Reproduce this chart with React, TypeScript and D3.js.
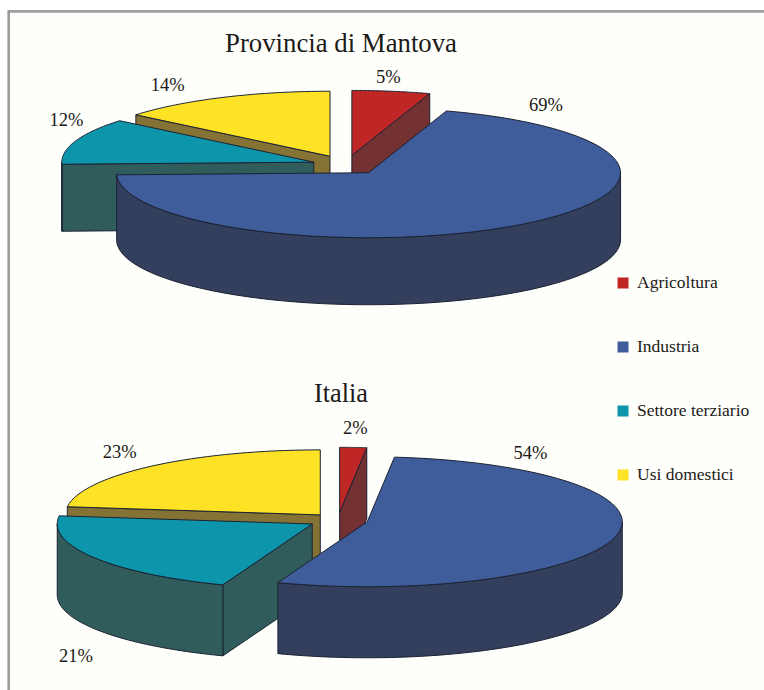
import React from "react";
import * as d3 from "d3";

const categories = ["Agricoltura", "Industria", "Settore terziario", "Usi domestici"];
const mantovaValues = [5, 69.49, 11.51, 14];
const italiaValues = [1.7, 54, 21.3, 23];

const topColors = ["#bf2626", "#3f5d9b", "#0c95ab", "#fde225"];
const wallColors = ["#733131", "#333f5c", "#315c5c", "#857235"];
const strokeColor = "#1b2233";
const textColor = "#1c1a18";
const serif = "'Liberation Serif', serif";

// back to front
const drawOrder = [3, 0, 2, 1];
const TAU = Math.PI * 2;
const ry = 65;

type PieProps = {
  title: string;
  values: number[];
  cx: number;
  cy: number;
  rx: number;
  depth: number;
  explode: number[];
  titleX: number;
  titleY: number;
  titleLength: number;
  labelShift: number[][];
};

function Pie3D(props: PieProps) {
  const { title, values, cx, cy, rx, depth, explode, titleX, titleY, titleLength, labelShift } = props;
  const slices = d3.pie<number>().sort(null)(values);
  const x = d3.scaleLinear().domain([-1, 1]).range([cx - rx, cx + rx]);
  const y = d3.scaleLinear().domain([-1, 1]).range([cy + ry, cy - ry]);
  const line = d3.line();

  const faces = drawOrder.map((i) => {
    const s = slices[i];
    const mid = (s.startAngle + s.endAngle) / 2;
    const ax = explode[i] * Math.sin(mid);
    const ay = explode[i] * Math.cos(mid);
    const apex: [number, number] = [x(ax), y(ay)];
    const rim = (t: number): [number, number] => [x(ax + Math.sin(t)), y(ay + Math.cos(t))];
    const down = (p: [number, number]): [number, number] => [p[0], p[1] + depth];
    const radialWall = (t: number) => line([apex, rim(t), down(rim(t)), down(apex)]) + "Z";

    const steps = d3.range(0, 61).map((k) => s.startAngle + ((s.endAngle - s.startAngle) * k) / 60);
    const top = line([apex, ...steps.map(rim)]) + "Z";

    // a cut face only shows when it turns towards the viewer
    const walls: string[] = [];
    if (Math.sin(s.startAngle) < -0.01) walls.push(radialWall(s.startAngle));
    if (Math.sin(s.endAngle) > 0.01) walls.push(radialWall(s.endAngle));

    // the rim only shows a wall on the front half of the ellipse
    const a0 = Math.max(s.startAngle, TAU / 4);
    const a1 = Math.min(s.endAngle, (TAU * 3) / 4);
    if (a1 > a0) {
      const arc = d3.range(0, 61).map((k) => rim(a0 + ((a1 - a0) * k) / 60));
      walls.push(line([...arc, ...arc.slice().reverse().map(down)]) + "Z");
    }

    return { i, top, walls, labelAt: rim(mid) };
  });

  return (
    <g>
      {faces.map((f) => (
        <g key={f.i} stroke={strokeColor} strokeWidth={1} strokeLinejoin="round">
          {f.walls.map((d, k) => (
            <path key={k} d={d} fill={wallColors[f.i]} />
          ))}
          <path d={f.top} fill={topColors[f.i]} />
        </g>
      ))}
      <text
        x={titleX}
        y={titleY}
        textAnchor="middle"
        fontFamily={serif}
        fontSize={28}
        fill={textColor}
        textLength={titleLength}
        lengthAdjust="spacingAndGlyphs"
      >
        {title}
      </text>
      {faces.map((f) => (
        <text
          key={f.i}
          x={f.labelAt[0] + labelShift[f.i][0]}
          y={f.labelAt[1] + labelShift[f.i][1]}
          textAnchor="middle"
          fontFamily={serif}
          fontSize={18.5}
          fill={textColor}
        >
          {d3.format(".0f")(values[f.i])}%
        </text>
      ))}
    </g>
  );
}

function Legend() {
  const y = d3.scalePoint<string>().domain(categories).range([283, 475]);
  return (
    <g>
      {categories.map((c, i) => (
        <g key={c}>
          <rect x={617.5} y={y(c)! - 5.5} width={11} height={11} fill={topColors[i]} />
          <text x={637} y={y(c)! + 5} fontFamily={serif} fontSize={17.5} fill={textColor}>
            {c}
          </text>
        </g>
      ))}
    </g>
  );
}

export default function App() {
  return (
    <svg
      width={764}
      height={690}
      style={{ position: "absolute", left: 0, top: 0, display: "block" }}
    >
      <rect x={0} y={0} width={764} height={690} fill="#fff" />
      <rect x={8.7} y={11.4} width={760} height={685} fill="#fefefb" stroke="#9a9a9a" strokeWidth={2.6} />
      <Pie3D
        title="Provincia di Mantova"
        values={mantovaValues}
        cx={346}
        cy={165}
        rx={252}
        depth={67}
        explode={[0.149, 0.149, 0.135, 0.149]}
        titleX={341}
        titleY={52}
        titleLength={232}
        labelShift={[
          [-3, -8],
          [26, -114],
          [-9, -15],
          [-55, -6],
        ]}
      />
      <Pie3D
        title="Italia"
        values={italiaValues}
        cx={338}
        cy={520}
        rx={255}
        depth={71}
        explode={[0.118, 0.118, 0.118, 0.105]}
        titleX={341}
        titleY={402}
        titleLength={54}
        labelShift={[
          [2, -13],
          [-85, -78],
          [-18, 104],
          [-32, -8.5],
        ]}
      />
      <Legend />
    </svg>
  );
}
